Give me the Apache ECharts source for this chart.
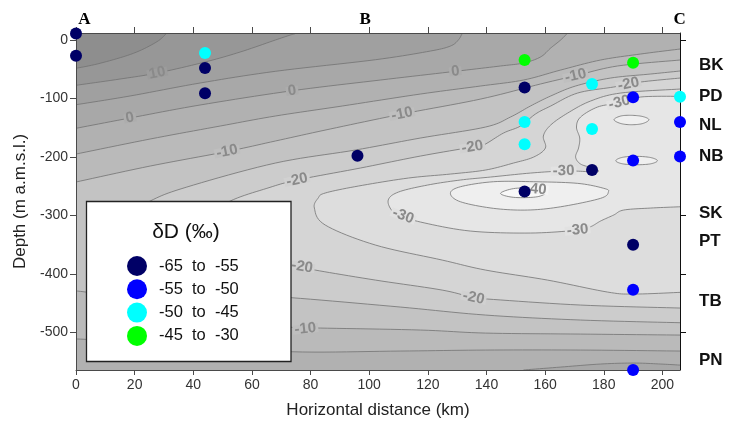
<!DOCTYPE html>
<html>
<head>
<meta charset="utf-8">
<script src="https://cdn.jsdelivr.net/npm/echarts@6.0.0/dist/echarts.min.js"></script>
<style>
html,body{margin:0;padding:0;background:#ffffff;}
#chart{width:738px;height:427px;}
</style>
</head>
<body>
<div id="chart"></div>
<script>
// ================= DATA =================
const xTickValues = [0, 20, 40, 60, 80, 100, 120, 140, 160, 180, 200];
const yTickValues = [0, -100, -200, -300, -400, -500];
const rightTickValues = [0, -300, -400, -500];
const stationNames = ['BK', 'PD', 'NL', 'NB', 'SK', 'PT', 'TB', 'PN'];
const stationDepths = [-43, -97, -146, -198, -296, -344, -447, -547];
const sectionNames = ['A', 'B', 'C'];
const sectionKm = [2.9, 98.6, 205.9];

const classNames = ['-65  to  -55', '-55  to  -50', '-50  to  -45', '-45  to  -30'];
const samplesClass1 = [[0, 11], [0, -27], [44, -48], [44, -91], [96, -198], [153, -81], [153, -259], [176, -222], [190, -350]];
const samplesClass2 = [[190, -98], [190, -206], [190, -427], [190, -564], [206, -140], [206, -199]];
const samplesClass3 = [[44, -22], [153, -140], [153, -178], [176, -75], [176, -152], [206, -97]];
const samplesClass4 = [[153, -34], [190, -39]];

const contourLevels = [15, 10, 5, 0, -5, -10, -15, -20, -25, -30, -35, -40];

// contour lines, [km, m]
const c15 = [[0, -48.4], [8.2, -39.8], [19.6, -22.7], [27.6, -2.9], [31.0, 12]];
const c10 = [[0, -77.4], [15, -66.7], [27.7, -56.4], [44, -37.6], [56, -20.5], [68, 0], [73.1, 8.5], [75.5, 12]];
const c5 = [[0, -110.6], [18.4, -95.7], [42.3, -73.5], [68, -53.5], [102.1, -33.7], [120.9, -18.8], [127.7, -10.3], [130.4, 0], [131.8, 12]];
const c0Top = [[0, -150.9], [18.4, -133.3], [42.3, -111.1], [73.7, -86.7], [103.8, -68.4], [129.4, -53.5], [144.8, -44.4], [152.6, -39.3], [158.4, -29.1], [161.9, -13.7], [165.3, 0], [167.7, 12]];
const c0Bottom = [[152.6, -564], [165.3, -559], [178.9, -553.8], [190.2, -552.1], [199.4, -553.8], [206, -555.6]];
const cM5Top = [[0, -194.9], [25.3, -169.2], [49.2, -147], [68, -129.9], [90.8, -112.8], [117.5, -92.3], [138, -78.6], [152.6, -68.4], [165.3, -51.3], [178.9, -34.2], [192.6, -23.9], [206, -15.4]];
const cM5Bottom = [[0, -511.6], [3.4, -511.6], [42.3, -521.4], [73.7, -532.8], [110.6, -531.6], [139.7, -529.9], [172.1, -529.9], [206, -531.6]];
const cM10Top = [[0, -242.7], [25.3, -215.4], [51.5, -190.6], [68, -172.6], [86.7, -152.1], [111.2, -126.5], [138, -100.9], [158.4, -75.2], [170.4, -61], [184.7, -44.4], [206, -34.2]];
const cM10Bottom = [[0, -430.3], [3.4, -430.8], [42.3, -458.1], [73.7, -491.1], [83.3, -492.3], [117.5, -495.7], [139.7, -500.9], [172.1, -502.6], [206, -504.3]];
const cM15 = [[206, -53], [196, -58.1], [182.3, -65], [170.4, -78.6], [161.9, -95.7], [155, -112.8], [148.2, -131.6], [139.7, -148.7], [117.5, -167.5], [95.3, -188], [68, -210.3], [37.8, -251.3], [25.3, -275.2], [15, -307.7], [11.6, -358.9], [18.4, -410.3], [35.5, -430.8], [56, -435.9], [73.7, -440.5], [110.6, -456.4], [139.7, -470.1], [172.1, -478.6], [206, -483.2]];
const cM20 = [[206, -65], [192.6, -71.8], [183.4, -80.3], [171.1, -90.6], [161.9, -112.8], [156.7, -126.5], [151.6, -147], [145.8, -159], [139, -179.5], [135.2, -182.9], [117.5, -198.3], [97, -218.8], [75.4, -239.3], [65.1, -253.5], [52.6, -275.2], [42.3, -307.7], [40.6, -341.9], [47.5, -369.2], [62.8, -381.2], [73.7, -386.3], [77.1, -387.5], [81.6, -393.2], [102.1, -410.3], [124.9, -427.4], [135.6, -440.5], [140.3, -442.7], [172.1, -453], [206, -458.1]];
const cM25 = [[206, -83.8], [185.8, -90.6], [175.5, -104.3], [167.7, -124.8], [161.9, -145.3], [159.4, -164.1], [160.1, -184.6], [156.1, -200], [149.2, -210.3], [139.7, -222.2], [127.7, -229.1], [113.4, -235.9], [96.3, -249.6], [85, -261.5], [82.6, -270.1], [81.3, -287.2], [85, -316.2], [102.1, -350.4], [124.9, -376.1], [139.7, -393.2], [160.8, -410.3], [181.3, -430.8], [190.2, -434.2], [206, -431.3]];
const cM30 = [[206, -96.2], [192.6, -97.4], [184.7, -107.7], [177.9, -114.5], [172.1, -131.6], [170.7, -148.7], [171.8, -167.5], [171.4, -184.6], [170.4, -200], [172.1, -212], [176.2, -218.8], [178.3, -223.9], [176.2, -226.5], [173.8, -224.8], [166.3, -223.9], [155, -227.4], [141.4, -234.2], [131.1, -239.3], [119.9, -247.9], [110, -259.8], [106.5, -273.5], [107.9, -292.3], [111.7, -300.9], [117.5, -311.1], [134.5, -326.5], [155, -329.9], [171.1, -324.8], [175.5, -319.1], [178.9, -309.4], [183.4, -299.1], [186.8, -290.6], [196, -287.2], [206, -285]];
const cM35a = [[127.7, -262], [131.1, -250.8], [142.4, -242.2], [156.1, -242.2], [171.1, -245], [180, -253.5], [181.6, -259.3], [178.9, -270.6], [165.3, -285], [154, -290.6], [142.4, -287.7], [131.1, -276.4]];
const cM35b = [[183.5, -136.2], [185.8, -129.9], [189.5, -128.7], [193.3, -130.8], [195.4, -136.2], [193.3, -142.7], [189.5, -144.8], [185.8, -142.7]];
const cM35c = [[184.1, -206.3], [186.4, -200.5], [191.2, -198.8], [196, -200.9], [198.3, -206.3], [196, -211.6], [191.2, -213.2], [186.4, -211.6]];
const cM40 = [[144.8, -262], [149.9, -253.5], [157.3, -255.2], [160.7, -259.3], [157.3, -267.9], [149.3, -268.9]];

// contour labels: text and approximate anchor [km, m]
const labelTexts = ['10', '0', '0', '0', '-10', '-10', '-10', '-20', '-20', '-20', '-20', '-20', '-10', '-30', '-30', '-30', '-30', '-40'];
const labelAnchors = [[27.7, -56.4], [18.4, -133.3], [73.7, -86.7], [129.4, -53.5], [51.5, -190.6], [111.2, -126.5], [170.4, -61], [75.4, -239.3], [135.2, -182.9], [188.5, -76.9], [77.1, -387.5], [135.6, -440.5], [78.2, -491.1], [111.7, -299.1], [166.3, -223.9], [171.1, -324.8], [185.3, -107], [156.7, -259]];

// ================= STYLE =================
const classColors = ['#000066', '#0000ff', '#00ffff', '#00ff00'];
const bandGray = [142, 151, 160, 168, 177, 186, 195, 204, 213, 221, 230, 239, 248];
const X0 = 0, X1 = 206, Y0 = -564, Y1 = 12;

function gray(g) { g = Math.round(g); return 'rgb(' + g + ',' + g + ',' + g + ')'; }

const curves = [
  {c: c15, l: 15}, {c: c10, l: 10}, {c: c5, l: 5}, {c: c0Top, l: 0}, {c: c0Bottom, l: 0},
  {c: cM5Top, l: -5}, {c: cM5Bottom, l: -5}, {c: cM10Top, l: -10}, {c: cM10Bottom, l: -10},
  {c: cM15, l: -15}, {c: cM20, l: -20}, {c: cM25, l: -25}, {c: cM30, l: -30},
  {c: cM35a, l: -35, closed: true}, {c: cM35b, l: -35, closed: true}, {c: cM35c, l: -35, closed: true},
  {c: cM40, l: -40, closed: true}
];

const regions = [
  {band: 0, parts: [{p: [[X0, Y1], [X1, Y1], [X1, Y0], [X0, Y0]]}]},
  {band: 1, parts: [{c: c15}, {p: [[X1, Y1], [X1, Y0], [X0, Y0]]}]},
  {band: 2, parts: [{c: c10}, {p: [[X1, Y1], [X1, Y0], [X0, Y0]]}]},
  {band: 3, parts: [{c: c5}, {p: [[X1, Y1], [X1, Y0], [X0, Y0]]}]},
  {band: 4, parts: [{c: c0Top}, {p: [[X1, Y1]]}, {c: c0Bottom, rev: true}, {p: [[X0, Y0]]}]},
  {band: 5, parts: [{c: cM5Top}, {c: cM5Bottom, rev: true}]},
  {band: 6, parts: [{c: cM10Top}, {c: cM10Bottom, rev: true}]},
  {band: 7, parts: [{c: cM15}]},
  {band: 8, parts: [{c: cM20}]},
  {band: 9, parts: [{c: cM25}]},
  {band: 10, parts: [{c: cM30}]},
  {band: 11, parts: [{c: cM35a, closed: true}]},
  {band: 11, parts: [{c: cM35b, closed: true}]},
  {band: 11, parts: [{c: cM35c, closed: true}]},
  {band: 12, parts: [{c: cM40, closed: true}]}
];

// Catmull-Rom rendering of a polyline given in pixel space (drawing only)
function smoothPx(pts, closed) {
  const n = pts.length, out = [];
  const get = i => closed ? pts[((i % n) + n) % n] : pts[Math.max(0, Math.min(n - 1, i))];
  const segs = closed ? n : n - 1;
  for (let i = 0; i < segs; i++) {
    const p0 = get(i - 1), p1 = get(i), p2 = get(i + 1), p3 = get(i + 2);
    const steps = 10;
    for (let s = 0; s < steps; s++) {
      const t = s / steps, t2 = t * t, t3 = t2 * t;
      out.push([0, 1].map(k => 0.5 * (2 * p1[k] + (-p0[k] + p2[k]) * t + (2 * p0[k] - 5 * p1[k] + 4 * p2[k] - p3[k]) * t2 + (-p0[k] + 3 * p1[k] - 3 * p2[k] + p3[k]) * t3)));
    }
  }
  if (closed) out.push(out[0].slice()); else out.push(pts[n - 1].slice());
  return out;
}
function curvePx(api, c, closed) { return smoothPx(c.map(p => api.coord(p)), closed); }
function regionPx(api, r) {
  let out = [];
  r.parts.forEach(part => {
    if (part.p) part.p.forEach(q => out.push(api.coord(q)));
    else {
      let s = curvePx(api, part.c, !!part.closed);
      if (part.rev) s = s.slice().reverse();
      out = out.concat(s);
    }
  });
  return out;
}
function nearestOn(list, P) {
  let best = null;
  list.forEach(cv => {
    for (let i = 0; i < cv.length - 1; i++) {
      const A = cv[i], B = cv[i + 1];
      const dx = B[0] - A[0], dy = B[1] - A[1], L2 = dx * dx + dy * dy;
      if (!L2) continue;
      let t = ((P[0] - A[0]) * dx + (P[1] - A[1]) * dy) / L2;
      t = Math.max(0, Math.min(1, t));
      const X = A[0] + t * dx, Y = A[1] + t * dy, d = (X - P[0]) ** 2 + (Y - P[1]) ** 2;
      if (!best || d < best.d) best = {d, X, Y, dx, dy};
    }
  });
  return best;
}

const classData = [samplesClass1, samplesClass2, samplesClass3, samplesClass4];
const axisFont = 'Liberation Sans';

const option = {
  animation: false,
  backgroundColor: '#ffffff',
  grid: {left: 76, right: 58, top: 33, bottom: 57, containLabel: false},
  xAxis: [
    {
      type: 'value', min: X0, max: X1, position: 'bottom', z: 10,
      axisLine: {show: true, onZero: false, lineStyle: {color: '#4a4a4a', width: 1}},
      axisTick: {show: true, inside: false, length: 5, customValues: xTickValues, lineStyle: {color: '#4a4a4a'}},
      axisLabel: {customValues: xTickValues, margin: 8, fontSize: 14, color: '#333', fontFamily: axisFont},
      splitLine: {show: false},
      name: 'Horizontal distance (km)', nameLocation: 'middle', nameGap: 32,
      nameTextStyle: {fontSize: 17, color: '#222', fontFamily: axisFont}
    },
    {
      type: 'value', min: X0, max: X1, position: 'top', z: 10,
      axisLine: {show: true, onZero: false, lineStyle: {color: '#4a4a4a', width: 1}},
      axisTick: {show: true, inside: false, length: 6, customValues: xTickValues, lineStyle: {color: '#4a4a4a'}},
      axisLabel: {
        customValues: sectionKm, margin: 5, fontSize: 17, fontWeight: 'bold', color: '#000',
        fontFamily: 'Liberation Serif',
        formatter: v => { let bi = 0; sectionKm.forEach((k, i) => { if (Math.abs(k - v) < Math.abs(sectionKm[bi] - v)) bi = i; }); return sectionNames[bi]; }
      },
      splitLine: {show: false}
    }
  ],
  yAxis: [
    {
      type: 'value', min: Y0, max: Y1, position: 'left', z: 10,
      axisLine: {show: true, onZero: false, lineStyle: {color: '#4a4a4a', width: 1}},
      axisTick: {show: true, inside: false, length: 6, customValues: yTickValues, lineStyle: {color: '#4a4a4a'}},
      axisLabel: {customValues: yTickValues, margin: 8, fontSize: 14, color: '#333', fontFamily: axisFont},
      splitLine: {show: false},
      name: 'Depth (m a.m.s.l.)', nameLocation: 'middle', nameGap: 46, nameRotate: 90,
      nameTextStyle: {fontSize: 17, color: '#222', fontFamily: axisFont}
    },
    {
      type: 'value', min: Y0, max: Y1, position: 'right', z: 10,
      axisLine: {show: true, onZero: false, lineStyle: {color: '#111', width: 1}},
      axisTick: {show: true, inside: false, length: 6, customValues: rightTickValues, lineStyle: {color: '#111'}},
      axisLabel: {
        customValues: stationDepths, margin: 19, fontSize: 17, fontWeight: 'bold', color: '#111', fontFamily: axisFont,
        formatter: v => { let bi = 0; stationDepths.forEach((d, i) => { if (Math.abs(d - v) < Math.abs(stationDepths[bi] - v)) bi = i; }); return stationNames[bi]; }
      },
      splitLine: {show: false}
    }
  ],
  legend: {
    orient: 'vertical', left: 122, top: 251, itemWidth: 20, itemHeight: 20, itemGap: 3.3,
    icon: 'circle', selectedMode: false, z: 60,
    textStyle: {fontSize: 16.5, color: '#111', fontFamily: axisFont, padding: [0, 0, 0, 7]},
    data: classNames
  },
  graphic: [
    {type: 'rect', z: 50, silent: true, shape: {x: 86.5, y: 201.5, width: 204.5, height: 160},
     style: {fill: '#ffffff', stroke: '#222', lineWidth: 1.3}},
    {type: 'text', z: 51, silent: true, x: 186, y: 232,
     style: {text: 'δD (‰)', font: '21px "Liberation Sans"', fill: '#111', align: 'center', verticalAlign: 'middle'}}
  ],
  series: [
    {
      type: 'custom', name: 'bands', silent: true, clip: true, z: 1,
      data: regions.map((r, i) => [i, 0]),
      encode: {x: 0, y: 1},
      renderItem: (params, api) => {
        const r = regions[params.dataIndex];
        return {type: 'polygon', shape: {points: regionPx(api, r)}, style: {fill: gray(bandGray[r.band]), stroke: null}};
      }
    },
    {
      type: 'custom', name: 'contours', silent: true, clip: true, z: 2,
      data: curves.map((c, i) => [i, 0]),
      encode: {x: 0, y: 1},
      renderItem: (params, api) => {
        const cv = curves[params.dataIndex];
        return {type: 'polyline', shape: {points: curvePx(api, cv.c, !!cv.closed)},
                style: {stroke: '#727272', lineWidth: 0.8, fill: null}};
      }
    },
    {
      type: 'custom', name: 'contourLabels', silent: true, clip: false, z: 3,
      data: labelAnchors.map(a => [a[0], a[1]]),
      encode: {x: 0, y: 1},
      renderItem: (params, api) => {
        const txt = labelTexts[params.dataIndex];
        const lvl = Number(txt);
        const list = curves.filter(c => c.l === lvl).map(c => curvePx(api, c.c, !!c.closed));
        const P = api.coord([api.value(0), api.value(1)]);
        const nb = nearestOn(list, P);
        let ang = 0, X = P[0], Y = P[1];
        if (nb && nb.d < 400) {
          X = nb.X; Y = nb.Y;
          ang = -Math.atan2(nb.dy, nb.dx);
          if (ang > Math.PI / 2) ang -= Math.PI;
          if (ang < -Math.PI / 2) ang += Math.PI;
        }
        const k = contourLevels.indexOf(lvl);
        const bg = gray((bandGray[k] + bandGray[k + 1]) / 2);
        return {type: 'text', x: X, y: Y, rotation: ang,
                style: {text: txt, fill: '#8a8a8a', font: 'bold 15px "Liberation Sans"', align: 'center', verticalAlign: 'middle',
                        backgroundColor: bg, padding: [0, 2], lineHeight: 9}};
      }
    }
  ].concat(classNames.map((n, i) => ({
    type: 'scatter', name: n, data: classData[i], symbol: 'circle', symbolSize: 12, clip: false, z: 20, silent: true,
    itemStyle: {color: classColors[i], opacity: 1, borderWidth: 0}
  })))
};

const chart = echarts.init(document.getElementById('chart'), null, {renderer: 'canvas'});
chart.setOption(option);
</script>
</body>
</html>
